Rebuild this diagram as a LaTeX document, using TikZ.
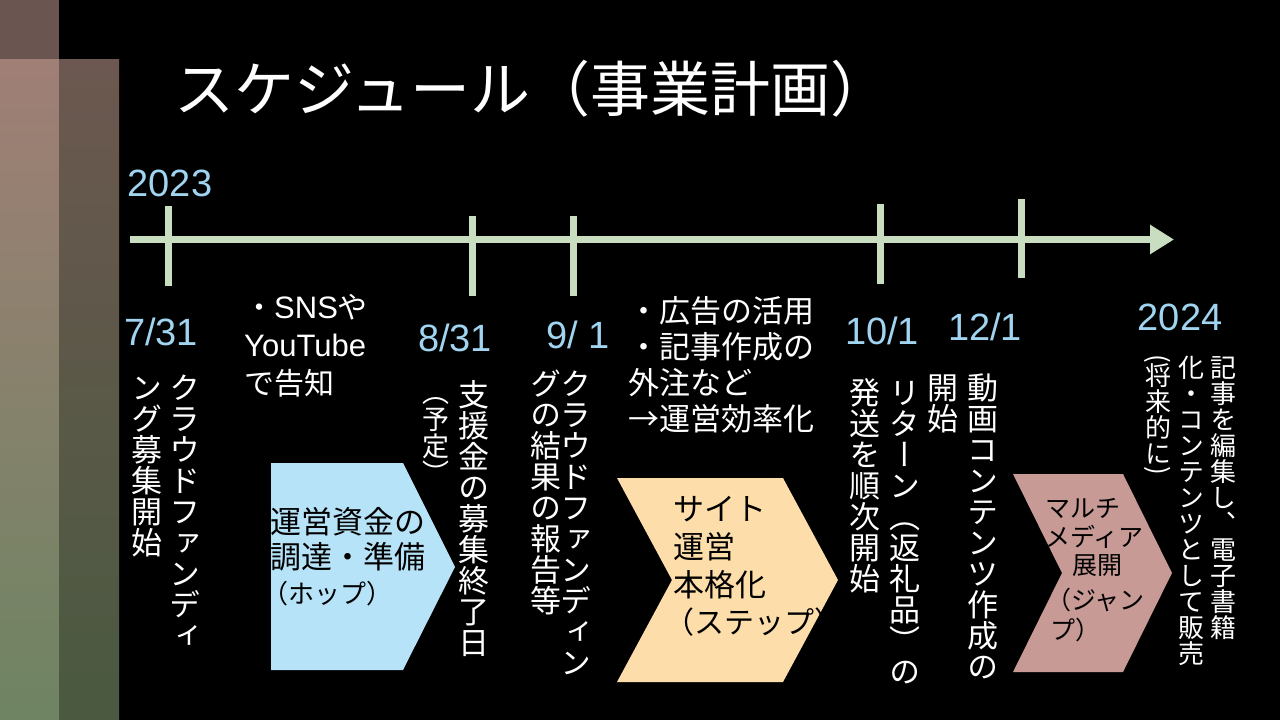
\documentclass[tikz,border=0pt]{standalone}
\usepackage{fontspec}
\usepackage{graphicx}
\usetikzlibrary{arrows.meta}

\setmainfont{Noto Sans CJK JP}
\newfontfamily\tatefont[RawFeature=+vert]{Noto Sans CJK JP}
\newfontfamily\numfont{Liberation Sans}

\definecolor{axisgreen}{RGB}{201,221,193}
\definecolor{datecol}{RGB}{160,212,240}
\definecolor{hopblue}{RGB}{182,227,247}
\definecolor{steporange}{RGB}{253,222,170}
\definecolor{jumprose}{RGB}{200,154,150}
\definecolor{cornerbrown}{RGB}{107,85,80}
\definecolor{stripAtop}{RGB}{160,127,118}
\definecolor{stripAmid}{RGB}{138,134,106}
\definecolor{stripAbot}{RGB}{110,132,98}
\definecolor{stripBtop}{RGB}{108,88,80}
\definecolor{stripBmid}{RGB}{92,90,72}
\definecolor{stripBbot}{RGB}{74,89,64}

% vertical Japanese text: one cell of 1em per character
\newcommand\tatestrut{\vrule height .88em depth .12em width 0pt}
\newcommand\tatecell[1]{\hbox to 1em{\hss#1\tatestrut\hss}}
\def\tatestop{\tateend}
\def\tatestep#1{\def\tatearg{#1}\ifx\tatearg\tatestop\else\tatecell{#1}\expandafter\tatestep\fi}
\newcommand\tate[1]{\vtop{\offinterlineskip\tatestep#1\tateend}}
\newcommand\tatehalf[1]{\rotatebox{-90}{#1}\let\tatestrut\relax}

\begin{document}
\begin{tikzpicture}[x=1pt,y=-1pt,
    axis/.style={draw=axisgreen, line width=7pt},
    tickmark/.style={draw=axisgreen, line width=7pt},
    datelbl/.style={text=datecol, inner sep=0pt, font=\numfont\fontsize{38}{38}\selectfont},
    tate/.style={text=white, anchor=north, inner sep=0pt, font=\tatefont\fontsize{31}{31}\selectfont},
    tatesmall/.style={tate, font=\tatefont\fontsize{26}{26}\selectfont},
    note/.style={text=white, anchor=north west, inner sep=0pt, align=left, font=\fontsize{31}{36}\selectfont},
    inlbl/.style={text=black, anchor=west, inner sep=0pt, font=\fontsize{31}{31}\selectfont},
    ]
    \useasboundingbox (0,0) rectangle (1280,720);
    \fill[black] (0,0) rectangle (1280,720);

    % side strips
    \fill[cornerbrown] (0,0) rectangle (59,59);
    \shade[top color=stripAtop, middle color=stripAmid, bottom color=stripAbot] (0,59) rectangle (59,720);
    \shade[top color=stripBtop, middle color=stripBmid, bottom color=stripBbot] (59,59) rectangle (119,720);

    % title
    \node[text=white, anchor=west, inner sep=0pt, font=\fontsize{60}{60}\selectfont] (title) at (174,89) {スケジュール（事業計画）};

    % time line
    \coordinate (tlstart) at (130,239.5);
    \coordinate (tlend) at (1174,239.5);
    \draw[axis,-{Triangle[length=24pt,width=28pt]}] (tlstart) -- (tlend);
    \foreach \x/\ya/\yb in {168/206/286, 472/216/296, 573/216/296, 880/204/284, 1021/199/278}
        \draw[tickmark] (\x,\ya) -- (\x,\yb);

    % years and dates
    \node[datelbl] (y2023) at (170,183) {2023};
    \node[datelbl] (y2024) at (1180,317) {2024};
    \node[datelbl] (d0731) at (161,332) {7/31};
    \node[datelbl] (d0831) at (455,338) {8/31};
    \node[datelbl] (d0901) at (578,335) {9/ 1};
    \node[datelbl] (d1001) at (882,331) {10/1};
    \node[datelbl] (d1201) at (985,327) {12/1};

    % notes
    \node[note, font=\fontsize{30}{38}\selectfont] (sns) at (244,294) {・{\numfont\fontsize{31}{38}\selectfont SNS}や\\{\numfont\fontsize{31}{38}\selectfont YouTube}\\で告知};
    \node[note] (ads) at (628,296) {・広告の活用\\・記事作成の\\外注など\\→運営効率化};

    % vertical texts
    \node[tate] (crowdA) at (185,372) {\tate{クラウドファンディ}};
    \node[tate] (crowdB) at (147,372) {\tate{ング募集開始}};
    \node[tate] (closeA) at (474,379) {\tate{支援金の募集終了日}};
    \node[tate, font=\tatefont\fontsize{27}{27}\selectfont] (closeB) at (436,379) {\tate{（予定）}};
    \node[tate] (resultA) at (576,368) {\tate{クラウドファンディン}};
    \node[tate] (resultB) at (546,368) {\tate{グの結果の報告等}};
    \node[tate] (returnA) at (905,377) {\tate{リターン（返礼品）の}};
    \node[tate] (returnB) at (865,377) {\tate{発送を順次開始}};
    \node[tate] (videoA) at (983,372) {\tate{動画コンテンツ作成の}};
    \node[tate] (videoB) at (943,372) {\tate{開始}};
    \node[tatesmall] (ebookA) at (1223,354) {\tate{記事を編集し、電子書籍}};
    \node[tatesmall] (ebookB) at (1191,354) {\tate{化・コンテンツとして販売}};
    \node[tatesmall] (ebookC) at (1158,354) {\tate{{\tatehalf(}将来的に{\tatehalf)}}};

    % hop, step, jump
    \fill[hopblue] (271,463) -- (403,463) -- (455,567) -- (403,670) -- (271,670) -- cycle;
    \fill[steporange] (617,478) -- (783,478) -- (838,580) -- (783,682) -- (617,682) -- (672,580) -- cycle;
    \fill[jumprose] (1013,474) -- (1123,474) -- (1172,573) -- (1123,672) -- (1013,672) -- (1062,573) -- cycle;

    \node[inlbl] (hop1) at (270,522) {運営資金の};
    \node[inlbl] (hop2) at (270,557) {調達・準備};
    \node[inlbl, font=\fontsize{26}{26}\selectfont] (hop3) at (262,594) {（ホップ）};

    \node[inlbl] (step1) at (673,509) {サイト};
    \node[inlbl] (step2) at (673,547) {運営};
    \node[inlbl] (step3) at (673,585) {本格化};
    \node[inlbl, font=\fontsize{30}{30}\selectfont] (step4) at (664,622) {（ステップ）};

    \node[inlbl, font=\fontsize{25}{25}\selectfont] (jump1) at (1045,508) {マルチ};
    \node[inlbl, font=\fontsize{25}{25}\selectfont] (jump2) at (1045,537) {メディア};
    \node[inlbl, font=\fontsize{25}{25}\selectfont] (jump3) at (1072,566) {展開};
    \node[inlbl, font=\fontsize{25}{25}\selectfont] (jump4) at (1046,600) {（ジャン};
    \node[inlbl, font=\fontsize{25}{25}\selectfont] (jump5) at (1050,630) {プ）};
\end{tikzpicture}
\end{document}
